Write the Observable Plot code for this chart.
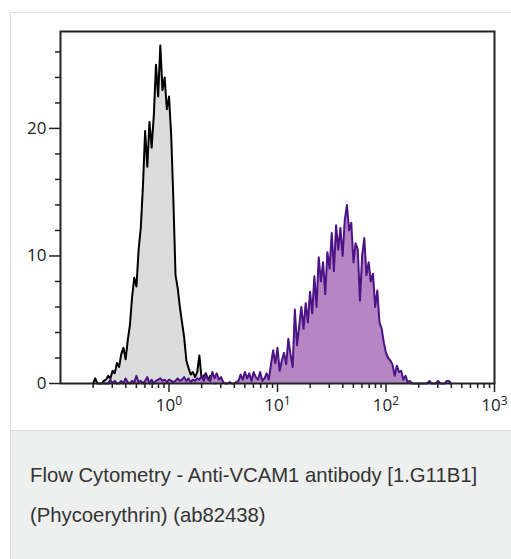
<!DOCTYPE html>
<html>
<head>
<meta charset="utf-8">
<script src="https://cdn.jsdelivr.net/npm/d3@7"></script>
<script src="https://cdn.jsdelivr.net/npm/@observablehq/plot@0.6"></script>
<style>
  html, body { margin: 0; padding: 0; background: #fff; }
  #wrap { position: absolute; left: 10px; top: 12px; width: 501px; }
  #chart { border-top: 1px solid #dddddd; border-left: 1px solid #dddddd; border-bottom: 1px solid #dddddd; height: 417px; background: #fff; }
  #chart svg { display: block; }
  #caption { border-left: 1px solid #dddddd; background: #eeefef; height: 128px; box-sizing: border-box; padding: 24px 0 0 19px;
    font-family: "Liberation Sans", Arial, sans-serif; font-size: 20.3px; line-height: 40px; color: #333; }
</style>
</head>
<body>
<div id="wrap">
  <div id="chart"></div>
  <div id="caption">Flow Cytometry - Anti-VCAM1 antibody [1.G11B1]<br>(Phycoerythrin) (ab82438)</div>
</div>
<script>
// Isotype control (grey) histogram: log10 fluorescence, counts
const grayExp = [-0.70,-0.68,-0.66,-0.64,-0.62,-0.60,-0.58,-0.56,-0.54,-0.52,-0.50,-0.48,-0.46,-0.44,-0.42,-0.40,-0.38,-0.36,-0.34,-0.32,-0.30,-0.28,-0.26,-0.24,-0.22,-0.20,-0.18,-0.16,-0.14,-0.12,-0.10,-0.08,-0.06,-0.04,-0.02,0.00,0.02,0.04,0.06,0.08,0.10,0.12,0.14,0.16,0.18,0.20,0.22,0.24,0.26,0.28,0.30,0.32,0.34,0.36,0.38,0.40,0.42];
const grayCount = [0,0.4,0,0,0,0.2,0.3,0.6,0.4,1.0,0.8,1.6,1.3,2.3,2.8,1.9,3.4,4.6,6.8,8.3,7.6,10.5,12.2,15.5,19.8,17.0,20.5,18.5,21.0,25.0,22.5,26.5,23.0,24.0,21.5,22.5,19.5,14.5,8.5,7.5,6.0,4.8,3.6,1.8,1.2,0.7,0.9,0.5,0.9,2.2,0.4,0.6,0.8,0.3,0.6,0.2,0];

// Anti-VCAM1 (purple) histogram
const purpleExp = [-0.60,-0.58,-0.56,-0.54,-0.52,-0.50,-0.48,-0.46,-0.44,-0.42,-0.40,-0.38,-0.36,-0.34,-0.32,-0.30,-0.28,-0.26,-0.24,-0.22,-0.20,-0.18,-0.16,-0.14,-0.12,-0.10,-0.08,-0.06,-0.04,-0.02,0.00,0.02,0.04,0.06,0.08,0.10,0.12,0.14,0.16,0.18,0.20,0.22,0.24,0.26,0.28,0.30,0.32,0.34,0.36,0.38,0.40,0.42,0.44,0.46,0.48,0.50,0.52,0.54,0.56,0.58,0.60,0.62,0.64,0.66,0.68,0.70,0.72,0.74,0.76,0.78,0.80,0.82,0.84,0.86,0.88,0.90,0.92,0.94,0.96,0.98,1.00,1.02,1.04,1.06,1.08,1.10,1.12,1.14,1.16,1.18,1.20,1.22,1.24,1.26,1.28,1.30,1.32,1.34,1.36,1.38,1.40,1.42,1.44,1.46,1.48,1.50,1.52,1.54,1.56,1.58,1.60,1.62,1.64,1.66,1.68,1.70,1.72,1.74,1.76,1.78,1.80,1.82,1.84,1.86,1.88,1.90,1.92,1.94,1.96,1.98,2.00,2.02,2.04,2.06,2.08,2.10,2.12,2.14,2.16,2.18,2.20,2.22,2.24,2.26,2.28,2.30,2.32,2.34,2.36,2.38,2.40,2.42,2.44,2.46,2.48,2.50,2.52,2.54,2.56,2.58,2.60];
const purpleCount = [0,0,0,0.3,0,0.2,0,0,0.2,0,0.4,0.1,0,0.2,0.1,0.6,0.1,0.2,0,0.2,0.5,0,0.3,0,0.2,0.3,0.4,0.2,0.3,0.1,0.3,0.2,0.1,0.2,0.4,0.2,0.3,0.5,0.2,0.4,0.1,0.3,0.2,0.4,0.3,0.6,0.2,0.7,0.3,0.2,0.9,0.4,0.8,0.3,0.5,0.1,0,0,0.1,0,0,0.1,0.2,0.7,0.3,0.9,0.4,0.8,0.2,0.9,0.5,0.3,0.9,0.2,0.4,0.8,0.3,1.5,2.6,1.6,2.8,1.0,1.8,2.4,1.5,3.5,2.3,1.3,5.8,3.0,4.5,6.0,4.3,6.3,4.8,7.2,5.5,8.4,6.0,9.9,8.0,9.5,7.0,10.3,9.0,11.8,8.8,12.4,10.5,12.2,10.0,12.8,14.0,12.0,12.6,9.5,11.0,10.5,6.5,10.0,11.4,8.5,9.5,8.0,8.6,6.0,7.3,4.8,4.3,3.2,2.4,2.0,1.8,1.5,0.6,1.4,0.9,1.0,0.3,0.6,0.1,0.2,0,0,0,0,0,0,0,0,0.2,0,0,0,0.2,0,0,0,0.2,0.2,0];

const xMajor = [1, 10, 100, 1000];
const xMinor = [0.2,0.3,0.4,0.5,0.6,0.7,0.8,0.9,2,3,4,5,6,7,8,9,20,30,40,50,60,70,80,90,200,300,400,500,600,700,800,900];
const yMajor = [0, 10, 20];
const yMinor = [2,4,6,8,12,14,16,18,22,24,26];

const gray = grayExp.map((e, i) => ({x: Math.pow(10, e), y: grayCount[i]}));
const purple = purpleExp.map((e, i) => ({x: Math.pow(10, e), y: purpleCount[i]}));

const plot = Plot.plot({
  width: 500,
  height: 417,
  marginLeft: 49,
  marginRight: 17,
  marginTop: 18,
  marginBottom: 47,
  style: {fontFamily: "'Open Sans', sans-serif", color: "#222", background: "#fff"},
  x: {type: "log", domain: [0.1, 1000]},
  y: {domain: [0, 27.6]},
  marks: [
    Plot.areaY(gray, {x: "x", y: "y", fill: "#dcdcdc"}),
    Plot.lineY(gray, {x: "x", y: "y", stroke: "#000", strokeWidth: 2}),
    Plot.areaY(purple, {x: "x", y: "y", fill: "#b685c4"}),
    Plot.lineY(purple, {x: "x", y: "y", stroke: "#4b1385", strokeWidth: 2}),
    Plot.axisY({ticks: yMinor, tickSize: 5, text: null, strokeWidth: 1.5, label: null}),
    Plot.axisY({ticks: yMajor, tickSize: 11, tickPadding: 3, strokeWidth: 1.5, label: null}),
    Plot.axisX({ticks: xMinor, tickSize: 5, text: null, strokeWidth: 1.5, label: null}),
    Plot.axisX({ticks: xMajor, tickSize: 9, tickPadding: 6, strokeWidth: 1.5, label: null,
      tickFormat: d => "10|" + Math.round(Math.log10(d))}),
    Plot.frame({stroke: "#222", strokeWidth: 2})
  ]
});

document.getElementById("chart").appendChild(plot);

// enlarge tick labels; superscript exponents on x tick labels
d3.select(plot).selectAll("text").each(function() {
  const sel = d3.select(this);
  sel.attr("font-size", 17).style("font-size", "17px").style("font-family", "'Open Sans', sans-serif").style("fill", "#222");
  const t = this.textContent;
  if (t && t.startsWith("10|")) {
    const exp = t.split("|")[1];
    sel.text(null);
    sel.append("tspan").text("10");
    sel.append("tspan").attr("dy", "-0.45em").style("font-size", "12px").text(exp);
  }
});
</script>
</body>
</html>
